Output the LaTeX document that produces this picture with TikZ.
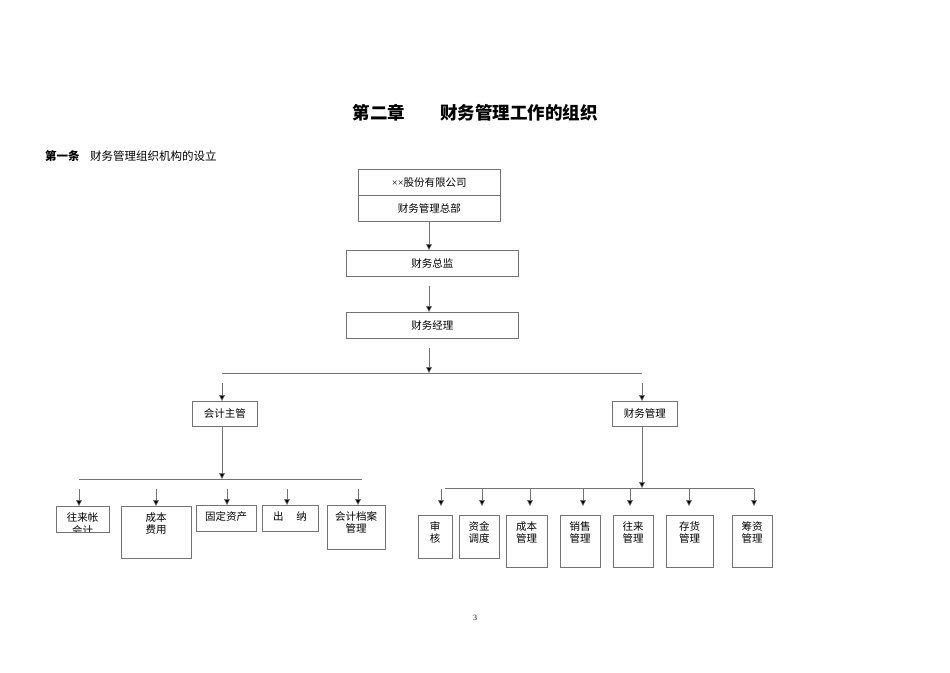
\documentclass[tikz,border=0pt]{standalone}
\usepackage{fontspec}
\setmainfont{Liberation Serif}
\newfontfamily\cjk{Noto Sans CJK SC}
\usetikzlibrary{arrows.meta}
\begin{document}
\begin{tikzpicture}[x=1pt,y=-1pt,
  ln/.style={draw=black!55,line width=0.6pt},
  ar/.style={ln,-{Triangle[length=6pt,width=6pt,fill=black]}},
  bx/.style={draw=black!55,line width=0.6pt,rectangle,inner sep=0pt},
  ft/.style={font=\cjk\fontsize{10.5}{12.5}\selectfont},
  tx/.style={ft,align=center,anchor=north,inner sep=0pt}]
\useasboundingbox (0,0) rectangle (950,672);
\newcommand{\bxx}[6]{%
  \node[bx,minimum width={#4-#2},minimum height={#5-#3},anchor=north west] (#1) at (#2,#3) {};
  \node[tx] at ({(#2+#4)/2},{#3+6}) {#6};}
\node[font=\cjk\bfseries\fontsize{17.5}{20}\selectfont] (title) at (475,113) {第二章\hspace{2em}财务管理工作的组织};
\node[anchor=west,font=\cjk\fontsize{11.5}{13}\selectfont,inner sep=0pt] (sec) at (45,156) {\textbf{第一条}\hspace{0.9em}财务管理组织机构的设立};
\node[bx,minimum width=142,minimum height=26,anchor=north west,ft] (co) at (358,169) {{\rmfamily××}股份有限公司};
\node[bx,minimum width=142,minimum height=26,anchor=north west,ft] (hq) at (358,195) {财务管理总部};
\node[bx,minimum width=172,minimum height=26,anchor=north west,ft] (cfo) at (346,250) {财务总监};
\node[bx,minimum width=172,minimum height=26,anchor=north west,ft] (fm) at (346,312) {财务经理};
\node[bx,minimum width=65,minimum height=25,anchor=north west,ft] (acc) at (192,401) {会计主管};
\node[bx,minimum width=65,minimum height=25,anchor=north west,ft] (fin) at (612,401) {财务管理};
\draw[ar] (429,221) -- (cfo.north -| 429,0);
\coordinate (c1) at (429,286); \draw[ar] (c1) -- (fm.north -| 429,0);
\coordinate (c2) at (429,348); \coordinate (c3) at (429,373);
\draw[ar] (c2) -- (c3);
\coordinate (hl) at (222,373); \coordinate (hr) at (642,373);
\draw[ln] (hl) -- (hr);
\coordinate (la) at (222,383); \draw[ar] (la) -- (acc.north -| 222,0);
\coordinate (ra) at (642,383); \draw[ar] (ra) -- (fin.north -| 642,0);
% left
\coordinate (lb) at (222,479); \draw[ar] (acc.south -| 222,0) -- (lb);
\coordinate (lh1) at (79,479); \coordinate (lh2) at (362,479); \draw[ln] (lh1) -- (lh2);
\begin{scope}
\clip (56,506) rectangle (109,531);
\bxx{a1}{56}{506}{109}{532}{往来帐\\[1pt]会计}
\end{scope}
\draw[bx] (a1.north west) rectangle (a1.south east);
\bxx{a2}{121}{506}{191}{558}{成本\\费用}
\bxx{a3}{196}{505}{256}{531}{固定资产}
\bxx{a4}{262}{505}{318}{531}{出\hspace{1.2em}纳}
\bxx{a5}{327}{505}{385}{549}{会计档案\\管理}
\foreach \n/\x in {a1/79,a2/156,a3/227,a4/287,a5/358}{
  \coordinate (t\n) at (\x,489); \draw[ar] (t\n) -- (\n.north -| \x,0);}
% right
\coordinate (rb) at (642,488); \draw[ar] (fin.south -| 642,0) -- (rb);
\coordinate (rh1) at (445,488); \coordinate (rh2) at (754,488); \draw[ln] (rh1) -- (rh2);
\bxx{b1}{418}{515}{452}{558}{审\\核}
\bxx{b2}{459}{515}{499}{558}{资金\\调度}
\bxx{b3}{506}{515}{547}{567}{成本\\管理}
\bxx{b4}{560}{515}{600}{567}{销售\\管理}
\bxx{b5}{613}{515}{653}{567}{往来\\管理}
\bxx{b6}{666}{515}{713}{567}{存货\\管理}
\bxx{b7}{732}{515}{772}{567}{筹资\\管理}
\foreach \n/\x in {b1/441,b2/482,b3/530,b4/583,b5/630,b6/689,b7/754}{
  \coordinate (t\n) at (\x,489); \draw[ar] (t\n) -- (\x,506);}
\node[font=\fontsize{8}{9}\selectfont] (pg) at (475,618) {3};
\end{tikzpicture}
\end{document}
